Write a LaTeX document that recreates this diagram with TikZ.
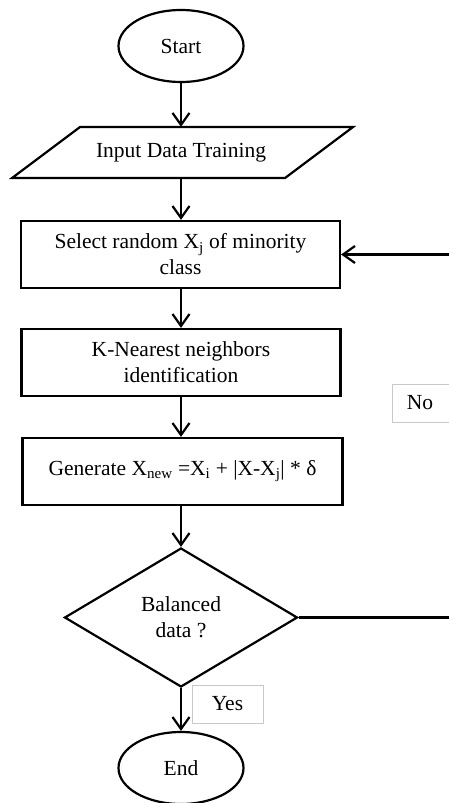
\documentclass[tikz,border=0pt]{standalone}
\usepackage{fontspec}
\setmainfont{Liberation Serif}
\usetikzlibrary{arrows.meta,shapes.geometric}

\tikzset{
  flowline/.style={line width=2.2pt, draw=black},
  flowarrow/.style={flowline, -{Straight Barb[length=12pt,width=17pt,line width=2.2pt]}},
  terminal/.style={ellipse, flowline, minimum width=125pt, minimum height=72pt, inner sep=0pt},
  process/.style={rectangle, flowline, minimum width=319pt, minimum height=67pt, align=center, inner sep=0pt},
  decision/.style={diamond, flowline, minimum width=233pt, minimum height=139pt, aspect=1.68, inner sep=0pt, align=center},
  tag/.style={rectangle, draw={rgb,255:red,200;green,200;blue,200}, line width=1pt, minimum height=38pt, inner sep=0pt},
}

\begin{document}
\begin{tikzpicture}[x=1pt, y=-1pt, font=\fontsize{21.5}{26}\selectfont]
\useasboundingbox[fill=white] (0,0) rectangle (448,803);

% terminals
\node[terminal] (start) at (181,46) {Start};
\node[terminal] (end) at (181,768) {End};

% input parallelogram
\node[minimum width=273pt, minimum height=51pt, inner sep=0pt] (input) at (181,152.5) {Input Data Training};
\draw[flowline, line join=miter] (80,127) -- (353,127) -- (285,178) -- (12,178) -- cycle;

% process steps
\node[process] (select) at (180.5,254.5) {Select random X\textsubscript{j} of minority\\class};
\node[process] (knn) at (181,362.5) {K-Nearest neighbors\\identification};
\node[process, minimum width=320pt] (gen) at (182.5,471.5) {Generate X\textsubscript{new} =X\textsubscript{i} + |X-X\textsubscript{j}| * δ};

% decision
\node[decision] (bal) at (181,617.5) {Balanced\\data ?};

% labels
\node[tag, minimum width=71pt] (yes) at (227.5,704) {Yes};
\node[tag, minimum width=80pt, anchor=west] (no) at (392,403) {\hspace*{-25pt}No};

% connectors
\draw[flowarrow] (start.south) -- (start.south |- input.north);
\draw[flowarrow] (start.south |- input.south) -- (start.south |- select.north);
\draw[flowarrow] (start.south |- select.south) -- (start.south |- knn.north);
\draw[flowarrow] (start.south |- knn.south) -- (start.south |- gen.north);
\draw[flowarrow] (start.south |- gen.south) -- (bal.north);
\draw[flowarrow] (bal.south) -- (end.north);

% loop back when the data is not balanced
\coordinate (loop) at (451,617.5);
\draw[flowarrow] (bal.east) -- (loop) |- (select.east);
\end{tikzpicture}
\end{document}
